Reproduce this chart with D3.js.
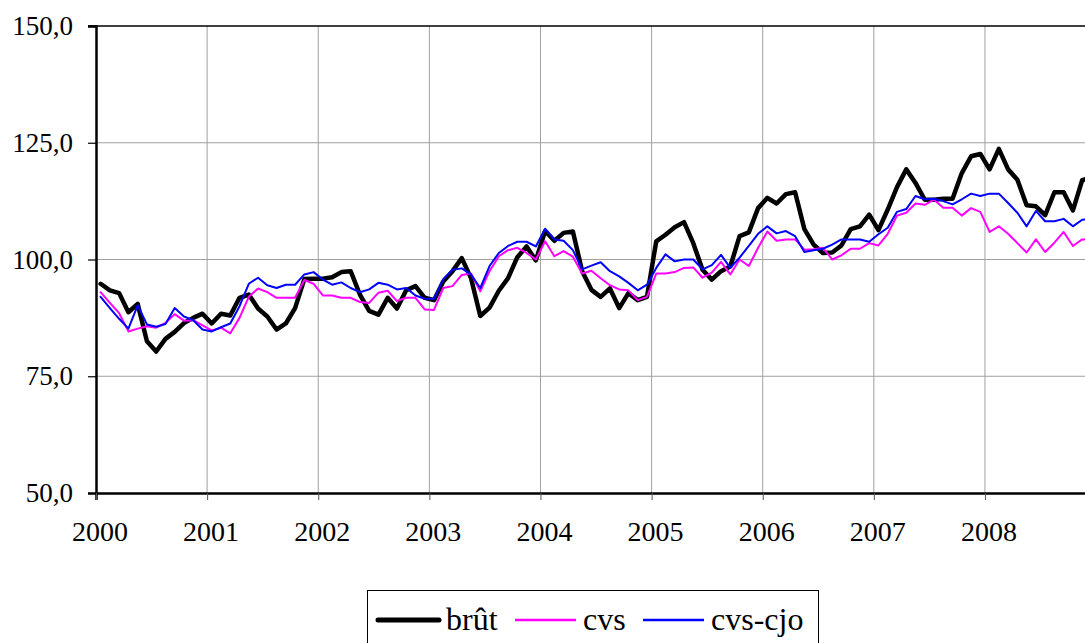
<!DOCTYPE html>
<html>
<head>
<meta charset="utf-8">
<script src="https://cdn.jsdelivr.net/npm/d3@7"></script>
<style>
  body { margin: 0; background: #fff; }
  svg { display: block; font-family: "Liberation Serif", "Times New Roman", serif; }
</style>
</head>
<body>
<svg class="chart" width="1085" height="643"></svg>
<script>
// monthly values, jan 2000 -> dec 2008
var years = ['2000', '2001', '2002', '2003', '2004', '2005', '2006', '2007', '2008'];
var yTicks = [50, 75, 100, 125, 150];
var yTickLabels = ['50,0', '75,0', '100,0', '125,0', '150,0'];

var brut = [
  94.8, 93.4, 92.8, 88.7, 90.5, 82.5, 80.3, 83.0, 84.5, 86.4, 87.5, 88.4,
  86.3, 88.4, 88.0, 91.8, 92.5, 89.5, 87.8, 85.0, 86.3, 89.6, 95.8, 95.9,
  95.9, 96.2, 97.3, 97.5, 92.5, 89.0, 88.2, 91.8, 89.5, 93.4, 94.3, 91.8,
  91.3, 95.3, 97.5, 100.3, 96.0, 87.9, 89.7, 93.3, 96.0, 100.5, 102.8, 99.8,
  106.1, 104.0, 105.7, 106.0, 97.5, 93.5, 92.0, 93.8, 89.6, 92.8, 91.3, 92.0,
  103.9, 105.3, 106.9, 108.0, 103.5, 97.8, 95.7, 97.5, 98.5, 105.0, 105.8, 111.0,
  113.2, 112.0, 114.0, 114.4, 106.5, 103.2, 101.4, 101.5, 103.0, 106.5, 107.1, 109.6,
  106.3, 110.7, 115.5, 119.3, 116.4, 112.8, 112.8, 113.0, 113.0, 118.5, 122.1, 122.6,
  119.3, 123.7, 119.3, 117.1, 111.6, 111.4, 109.5, 114.4, 114.4, 110.5, 117.0, 117.5
];

var cvs = [
  93.0, 90.7, 88.5, 84.6, 85.2, 85.7, 85.4, 86.4, 88.3, 86.9, 87.0, 85.9,
  84.8, 85.4, 84.2, 87.5, 92.0, 93.8, 93.0, 91.8, 91.8, 91.8, 95.6, 94.8,
  92.3, 92.3, 91.8, 91.8, 90.9, 90.7, 92.9, 93.3, 91.1, 91.8, 91.8, 89.3,
  89.2, 93.9, 94.3, 96.7, 97.0, 93.2, 97.5, 100.7, 102.0, 102.5, 101.4, 100.0,
  103.9, 100.7, 101.8, 100.6, 97.0, 97.6, 96.0, 94.5, 93.6, 93.4, 91.3, 92.0,
  97.0, 97.0, 97.3, 98.2, 98.3, 96.1, 97.2, 99.5, 96.8, 100.0, 98.6, 102.5,
  106.0, 104.0, 104.3, 104.3, 102.1, 102.2, 102.5, 100.0, 100.9, 102.3, 102.3, 103.5,
  103.0, 105.5, 109.4, 110.0, 112.0, 111.7, 112.8, 111.1, 111.1, 109.4, 111.0, 110.2,
  105.9, 107.1, 105.5, 103.5, 101.5, 104.3, 101.6, 103.6, 105.9, 102.9, 104.3, 104.3
];

var cvsCjo = [
  92.0, 89.6, 87.3, 85.2, 90.2, 86.1, 85.6, 86.2, 89.6, 87.8, 87.0, 85.0,
  84.6, 85.5, 86.3, 90.0, 94.8, 96.1, 94.5, 93.9, 94.6, 94.6, 96.8, 97.3,
  95.7, 94.6, 95.1, 93.9, 93.0, 93.6, 95.0, 94.6, 93.6, 93.9, 92.3, 91.6,
  91.6, 95.8, 97.8, 98.1, 96.8, 93.9, 98.6, 101.4, 102.9, 103.8, 103.8, 102.8,
  106.6, 104.3, 104.0, 102.0, 97.9, 98.7, 99.4, 97.5, 96.4, 95.0, 93.4, 94.6,
  98.2, 101.1, 99.6, 100.0, 100.0, 97.9, 98.8, 101.0, 98.2, 100.4, 102.9, 105.5,
  107.1, 105.6, 106.1, 105.0, 101.6, 102.0, 102.3, 103.2, 104.3, 104.3, 104.3, 103.8,
  105.4, 106.8, 110.2, 110.8, 113.6, 112.9, 113.0, 112.5, 111.8, 112.9, 114.1, 113.6,
  114.1, 114.1, 112.1, 110.0, 107.1, 110.4, 108.2, 108.2, 108.7, 107.1, 108.5, 108.7
];

var series = [
  { name: 'brût', values: brut, color: '#000000', width: 4.5 },
  { name: 'cvs', values: cvs, color: '#ff00ff', width: 2 },
  { name: 'cvs-cjo', values: cvsCjo, color: '#0000ff', width: 2 }
];

drawChart();

function drawChart() {
  var svg = d3.select('.chart');
  var left = 96, plotTop = 26, bottom = 493;
  var monthWidth = 9.26;
  var right = left + 108 * monthWidth; // runs past the picture edge

  var x = d3.scaleLinear().domain([0, 108]).range([left, right]);
  var y = d3.scaleLinear().domain([50, 150]).range([bottom, plotTop]);

  svg.append('defs').append('clipPath')
    .attr('id', 'plot')
    .append('rect')
    .attr('x', left).attr('y', plotTop - 5)
    .attr('width', right - left).attr('height', bottom - plotTop + 10)
  ;

  // gridlines
  var grid = svg.append('g');
  grid.selectAll('.hgrid')
    .data([75, 100, 125])
    .enter().append('line')
    .attr('x1', left).attr('x2', right)
    .attr('y1', function(d) { return y(d); })
    .attr('y2', function(d) { return y(d); })
    .attr('stroke', '#a0a0a0').attr('stroke-width', 1)
  ;
  grid.selectAll('.vgrid')
    .data(d3.range(12, 108, 12))
    .enter().append('line')
    .attr('x1', function(d) { return x(d); })
    .attr('x2', function(d) { return x(d); })
    .attr('y1', plotTop).attr('y2', bottom)
    .attr('stroke', '#a0a0a0').attr('stroke-width', 1)
  ;

  // lines, points sit in the middle of each month
  var line = d3.line()
    .x(function(d, i) { return x(i + 0.5); })
    .y(function(d) { return y(d); })
  ;

  svg.append('g')
    .attr('clip-path', 'url(#plot)')
    .selectAll('path')
    .data(series)
    .enter().append('path')
    .attr('d', function(s) { return line(s.values); })
    .attr('fill', 'none')
    .attr('stroke', function(s) { return s.color; })
    .attr('stroke-width', function(s) { return s.width; })
    .attr('stroke-linejoin', 'round')
    .attr('stroke-linecap', 'round')
  ;

  // top border
  svg.append('line')
    .attr('x1', left - 8).attr('x2', right)
    .attr('y1', y(150)).attr('y2', y(150))
    .attr('stroke', '#000').attr('stroke-width', 1.5)
  ;

  // y axis
  var yAxis = d3.axisLeft(y)
    .tickValues(yTicks)
    .tickFormat(function(d, i) { return yTickLabels[i]; })
    .tickSize(8)
    .tickPadding(15)
  ;
  var yg = svg.append('g')
    .attr('transform', 'translate(' + left + ',0)')
    .call(yAxis)
  ;
  yg.select('.domain').attr('stroke', '#000').attr('stroke-width', 2.5);
  yg.selectAll('.tick line').attr('stroke', '#000').attr('stroke-width', 1.2);
  yg.selectAll('.tick text').attr('font-size', 27).attr('fill', '#000')
    .attr('font-family', '"Liberation Serif", "Times New Roman", serif');

  // x axis
  var xAxis = d3.axisBottom(x)
    .tickValues(d3.range(0, 108, 12))
    .tickFormat(function(d, i) { return years[i]; })
    .tickSize(7)
    .tickPadding(21)
  ;
  var xg = svg.append('g')
    .attr('transform', 'translate(0,' + bottom + ')')
    .call(xAxis)
  ;
  xg.select('.domain').attr('stroke', '#000').attr('stroke-width', 2.5);
  xg.selectAll('.tick line').attr('stroke', '#555').attr('stroke-width', 1);
  xg.selectAll('.tick text').attr('font-size', 28).attr('fill', '#000').attr('dx', 3.5)
    .attr('font-family', '"Liberation Serif", "Times New Roman", serif');

  // legend
  var legend = svg.append('g');
  legend.append('rect')
    .attr('x', 367.5).attr('y', 590.5)
    .attr('width', 451).attr('height', 70)
    .attr('fill', '#fff').attr('stroke', '#000').attr('stroke-width', 1)
  ;
  var legendX = [378, 515, 643];
  var items = legend.selectAll('.item')
    .data(series)
    .enter().append('g')
    .attr('transform', function(d, i) { return 'translate(' + legendX[i] + ',620)'; })
  ;
  items.append('line')
    .attr('x1', 0).attr('x2', 61)
    .attr('stroke', function(s) { return s.color; })
    .attr('stroke-width', function(s) { return s.width === 2 ? 2.5 : 5; })
    .attr('stroke-linecap', function(s) { return s.width === 2 ? 'butt' : 'round'; })
  ;
  items.append('text')
    .attr('x', 68).attr('y', 10)
    .attr('font-size', 32)
    .text(function(s) { return s.name; })
  ;
}
</script>
</body>
</html>
